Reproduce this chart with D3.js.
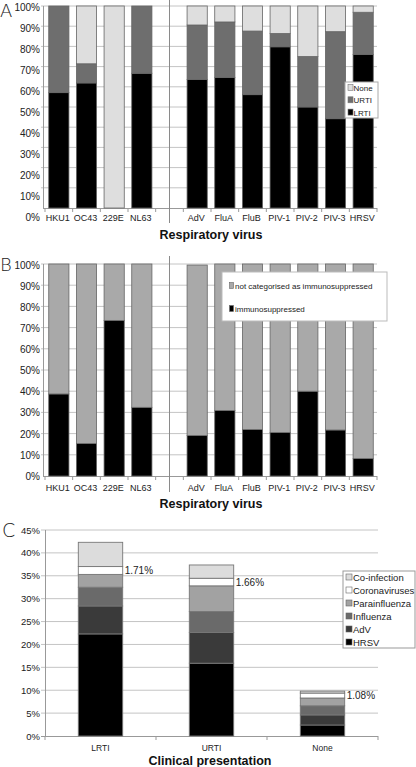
<!DOCTYPE html>
<html>
<head>
<meta charset="utf-8">
<script src="https://cdn.jsdelivr.net/npm/d3@7/dist/d3.min.js"></script>
<style>
  html, body { margin: 0; padding: 0; background: #fff; }
  svg { display: block; font-family: "Liberation Sans", Arial, sans-serif; }
</style>
</head>
<body>
<svg id="chart" width="416" height="767"></svg>
<script>
// ---------- DATA ----------
const viruses = ["HKU1", "OC43", "229E", "NL63", "AdV", "FluA", "FluB", "PIV-1", "PIV-2", "PIV-3", "HRSV"];
const gapAfter = "NL63";
// Panel A (% of cases per clinical presentation)
const lrti = [57.1, 61.9, 0, 66.7, 63.6, 64.6, 56.1, 79.8, 50.0, 44.2, 76.0];
const urti = [42.9, 9.5, 0, 33.3, 27.0, 27.5, 31.5, 6.6, 25.0, 43.1, 20.9];
const noneA = [0, 28.6, 100, 0, 9.4, 7.9, 12.4, 13.6, 25.0, 12.7, 3.1];
const panelASeries = ["LRTI", "URTI", "None"];
// Panel B
const immuno = [38.7, 15.3, 73.4, 32.4, 19.1, 30.9, 21.9, 20.5, 40.0, 21.7, 8.2];
const notImmuno = [61.3, 84.7, 26.6, 67.6, 80.4, 69.1, 78.1, 79.5, 60.0, 78.3, 91.8];
const panelBSeries = ["immunosuppressed", "not categorised as immunosuppressed"];
// Panel C
const presentations = ["LRTI", "URTI", "None"];
const hrsv = [22.3, 15.9, 2.4];
const adv = [6.1, 6.7, 2.2];
const influenza = [4.1, 4.6, 2.0];
const parainfluenza = [2.8, 5.6, 1.7];
const coronaviruses = [1.71, 1.66, 1.08];
const coinfection = [5.3, 2.9, 0.42];
const panelCSeries = ["HRSV", "AdV", "Influenza", "Parainfluenza", "Coronaviruses", "Co-infection"];
const coronaLabels = ["1.71%", "1.66%", "1.08%"];
const pctTicksAB = [0, 10, 20, 30, 40, 50, 60, 70, 80, 90, 100];
const pctTicksC = [0, 5, 10, 15, 20, 25, 30, 35, 40, 45];

// ---------- SETUP ----------
const svg = d3.select("#chart");
const gridColor = "#c4c4c4";
const axisColor = "#999";
const textColor = "#222";

const slots = [];
viruses.forEach(v => { slots.push(v); if (v === gapAfter) slots.push("gap"); });

function virusPanel(opts) {
  const { top, bottom, labelBottom, values, colors, keys, letter, letterY, sepTop, sepBottom, catY, titleY } = opts;
  const g = svg.append("g");
  const x = d3.scaleBand().domain(slots).range([45, 377]).paddingInner(0.27).paddingOuter(0.135);
  const y = d3.scaleLinear().domain([0, 100]).range([bottom, top]);
  const yLab = d3.scaleLinear().domain([0, 100]).range([labelBottom, top + 1]);

  // gridlines
  g.selectAll("line.grid").data(pctTicksAB.slice(1)).join("line")
    .attr("x1", 41).attr("x2", 377)
    .attr("y1", d => y(d)).attr("y2", d => y(d))
    .attr("stroke", gridColor).attr("stroke-width", 1);

  // y axis labels
  const yAxis = d3.axisLeft(yLab).tickValues(pctTicksAB).tickFormat(d => d + "%").tickSize(0).tickPadding(0);
  const ya = g.append("g").attr("transform", "translate(40,0)").call(yAxis);
  ya.select(".domain").remove();
  ya.selectAll("text").attr("font-size", 10).attr("fill", textColor).attr("font-family", "Liberation Sans, Arial, sans-serif");

  // axis lines
  g.append("line").attr("x1", 43.5).attr("x2", 43.5).attr("y1", top).attr("y2", bottom).attr("stroke", axisColor);
  g.append("line").attr("x1", 43).attr("x2", 377).attr("y1", bottom + 0.5).attr("y2", bottom + 0.5).attr("stroke", axisColor);
  // bottom ticks at slot boundaries
  const bounds = slots.map(s => x(s) - x.step() * x.paddingInner() / 2).concat([377]);
  g.selectAll("line.bt").data(bounds).join("line")
    .attr("x1", d => d).attr("x2", d => d).attr("y1", bottom).attr("y2", bottom + 4)
    .attr("stroke", axisColor);

  // separator
  const sx = x("gap") + x.bandwidth() / 2;
  g.append("line").attr("x1", sx).attr("x2", sx).attr("y1", sepTop).attr("y2", sepBottom)
    .attr("stroke", "#8a8a8a").attr("stroke-width", 1);

  // stacked bars
  const rows = viruses.map((v, i) => { const r = { virus: v }; keys.forEach((k, j) => r[k] = values[j][i]); return r; });
  const stacked = d3.stack().keys(keys)(rows);
  stacked.forEach((layer, j) => {
    g.selectAll(null).data(layer.filter(d => d[1] - d[0] > 0)).join("rect")
      .attr("x", d => x(d.data.virus))
      .attr("width", x.bandwidth())
      .attr("y", d => y(d[1]))
      .attr("height", d => y(d[0]) - y(d[1]))
      .attr("fill", colors[j])
      .attr("stroke", "#666").attr("stroke-width", 0.8);
  });

  // category labels
  g.selectAll("text.cat").data(viruses).join("text")
    .attr("x", d => x(d) + x.bandwidth() / 2 - 1)
    .attr("y", catY)
    .attr("text-anchor", "middle").attr("font-size", 9).attr("fill", textColor)
    .text(d => d);

  // axis title
  g.append("text").attr("x", 211).attr("y", titleY).attr("text-anchor", "middle")
    .attr("font-size", 12.5).attr("font-weight", "bold").attr("fill", "#111").text("Respiratory virus");

  // panel letter
  g.append("text").attr("x", 0).attr("y", letterY).attr("font-size", 18).attr("fill", "#222")
    .attr("font-family", "DejaVu Sans, sans-serif").attr("font-weight", 200).text(letter);
  return { g, x, y };
}

// ---------- PANEL A ----------
const colorsA = ["#000000", "#6e6e6e", "#dedede"];
const A = virusPanel({
  top: 6, bottom: 208, labelBottom: 217,
  values: [lrti, urti, noneA], colors: colorsA, keys: panelASeries,
  letter: "A", letterY: 17, sepTop: 0, sepBottom: 223, catY: 221, titleY: 239
});
// legend A
{
  const lg = svg.append("g").attr("transform", "translate(345,82)");
  lg.append("rect").attr("width", 33).attr("height", 36).attr("fill", "#fff").attr("stroke", "#aaa");
  const items = panelASeries.slice().reverse();
  const cols = colorsA.slice().reverse();
  items.forEach((it, i) => {
    lg.append("rect").attr("x", 3).attr("y", 2.5 + i * 12.3).attr("width", 5).attr("height", 6)
      .attr("fill", cols[i]).attr("stroke", "#777").attr("stroke-width", 0.6);
    lg.append("text").attr("x", 8.5).attr("y", 9 + i * 12.3).attr("font-size", 8).attr("fill", textColor).text(it);
  });
}

// ---------- PANEL B ----------
const colorsB = ["#000000", "#a9a9a9"];
const B = virusPanel({
  top: 264, bottom: 476, labelBottom: 476,
  values: [immuno, notImmuno], colors: colorsB, keys: panelBSeries,
  letter: "B", letterY: 271, sepTop: 256, sepBottom: 492, catY: 491, titleY: 508
});
{
  const lg = svg.append("g").attr("transform", "translate(222,272)");
  lg.append("rect").attr("width", 165).attr("height", 49).attr("fill", "#fff").attr("stroke", "#bbb");
  const items = panelBSeries.slice().reverse();
  const cols = colorsB.slice().reverse();
  items.forEach((it, i) => {
    lg.append("rect").attr("x", 7.5).attr("y", 10.5 + i * 23).attr("width", 4).attr("height", 6)
      .attr("fill", cols[i]).attr("stroke", "#666").attr("stroke-width", 0.6);
    lg.append("text").attr("x", 13).attr("y", 16.5 + i * 23).attr("font-size", 8).attr("fill", textColor).text(it);
  });
}

// ---------- PANEL C ----------
{
  const g = svg.append("g");
  const top = 530, bottom = 736;
  const x = d3.scaleBand().domain(presentations).range([45, 378]).paddingInner(0.6).paddingOuter(0.3);
  const y = d3.scaleLinear().domain([0, 45]).range([bottom, top]);
  const colorsC = ["#000000", "#3a3a3a", "#6a6a6a", "#a2a2a2", "#ffffff", "#dcdcdc"];

  g.selectAll("line.grid").data(pctTicksC.slice(1)).join("line")
    .attr("x1", 41).attr("x2", 378).attr("y1", d => y(d)).attr("y2", d => y(d))
    .attr("stroke", gridColor);
  const ya = g.append("g").attr("transform", "translate(40,0)")
    .call(d3.axisLeft(y).tickValues(pctTicksC).tickFormat(d => d + "%").tickSize(0).tickPadding(0));
  ya.select(".domain").remove();
  ya.selectAll("text").attr("font-size", 9.5).attr("fill", textColor).attr("font-family", "Liberation Sans, Arial, sans-serif");
  g.append("line").attr("x1", 45.5).attr("x2", 45.5).attr("y1", top).attr("y2", bottom).attr("stroke", axisColor);
  g.append("line").attr("x1", 41).attr("x2", 378).attr("y1", bottom + 0.5).attr("y2", bottom + 0.5).attr("stroke", axisColor);
  const bounds = [45].concat(presentations.map(p => x(p) + x.bandwidth() + x.step() * x.paddingInner() / 2));
  g.selectAll("line.bt").data(bounds).join("line")
    .attr("x1", d => d).attr("x2", d => d).attr("y1", bottom).attr("y2", bottom + 4).attr("stroke", axisColor);

  const vals = [hrsv, adv, influenza, parainfluenza, coronaviruses, coinfection];
  const rows = presentations.map((p, i) => { const r = { p }; panelCSeries.forEach((k, j) => r[k] = vals[j][i]); return r; });
  const stacked = d3.stack().keys(panelCSeries)(rows);
  stacked.forEach((layer, j) => {
    g.selectAll(null).data(layer).join("rect")
      .attr("x", d => x(d.data.p)).attr("width", x.bandwidth())
      .attr("y", d => y(d[1])).attr("height", d => y(d[0]) - y(d[1]))
      .attr("fill", colorsC[j]).attr("stroke", "#777").attr("stroke-width", 0.9);
  });
  // corona labels
  const corLayer = stacked[4];
  g.selectAll("text.cl").data(corLayer).join("text")
    .attr("x", d => x(d.data.p) + x.bandwidth() + 2)
    .attr("y", d => y((d[0] + d[1]) / 2) + 3.5)
    .attr("font-size", 10).attr("fill", textColor)
    .text((d, i) => coronaLabels[i]);

  g.selectAll("text.cat").data(presentations).join("text")
    .attr("x", d => x(d) + x.bandwidth() / 2).attr("y", 751)
    .attr("text-anchor", "middle").attr("font-size", 8.5).attr("fill", textColor).text(d => d);
  g.append("text").attr("x", 210).attr("y", 765).attr("text-anchor", "middle")
    .attr("font-size", 12.5).attr("font-weight", "bold").attr("fill", "#111").text("Clinical presentation");
  g.append("text").attr("x", 2).attr("y", 537).attr("font-size", 19).attr("fill", "#222")
    .attr("font-family", "DejaVu Sans, sans-serif").attr("font-weight", 200).text("C");

  // legend C
  const lg = svg.append("g").attr("transform", "translate(343,571)");
  lg.append("rect").attr("width", 72).attr("height", 77).attr("fill", "#fff").attr("stroke", "#999");
  const items = panelCSeries.slice().reverse();
  const cols = colorsC.slice().reverse();
  items.forEach((it, i) => {
    lg.append("rect").attr("x", 3).attr("y", 3 + i * 13).attr("width", 6).attr("height", 6)
      .attr("fill", cols[i]).attr("stroke", "#666").attr("stroke-width", 0.6);
    lg.append("text").attr("x", 10).attr("y", 10 + i * 13).attr("font-size", 9.5)
      .attr("textLength", null).attr("fill", textColor).text(it);
  });
}
</script>
</body>
</html>
